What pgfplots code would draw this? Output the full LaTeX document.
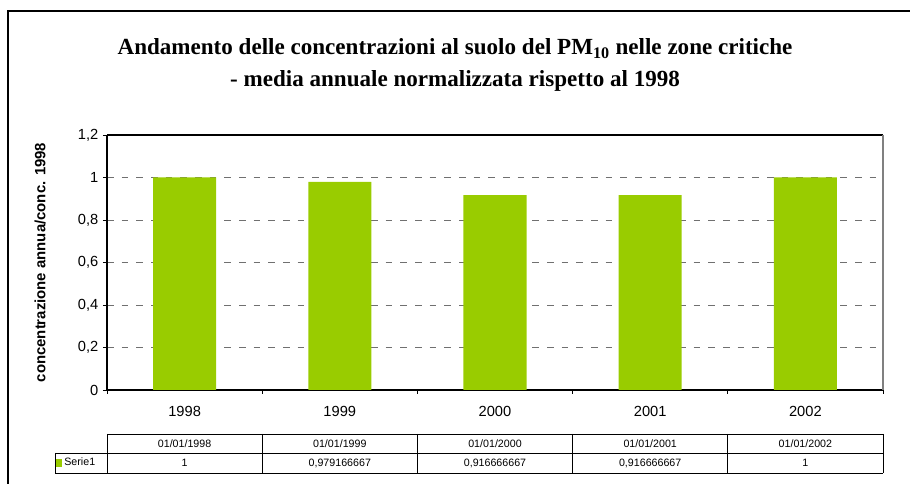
\documentclass[border=0pt]{standalone}
\usepackage{pgfplots}
\pgfplotsset{compat=1.18}
\usepackage{fontspec}
\setmainfont{Liberation Sans}
\newfontfamily\titlefont{Liberation Serif}
\definecolor{barcol}{HTML}{99CC00}
\definecolor{gridcol}{HTML}{707070}
\begin{document}
\begin{tikzpicture}
\useasboundingbox (0,0) rectangle (682.5pt,363pt);
% outer frame
\draw[black, line width=0.8pt] (6pt,-2pt) -- (6pt,354.75pt) -- (690pt,354.75pt);
% title
\node[anchor=base, font=\titlefont\bfseries\fontsize{17.3}{20}\selectfont] at (341.25pt,322pt) {Andamento delle concentrazioni al suolo del PM\textsubscript{10} nelle zone critiche};
\node[anchor=base, font=\titlefont\bfseries\fontsize{17.3}{20}\selectfont] at (341.25pt,298pt) {- media annuale normalizzata rispetto al 1998};
\begin{axis}[
  at={(80.25pt,70.5pt)}, anchor=south west,
  scale only axis, width=582pt, height=191.25pt,
  xmin=-0.5, xmax=4.5, ymin=0, ymax=1.2,
  axis x line*=bottom, axis y line*=left,
  axis line style={black, line width=0.8pt},
  ytick={0,0.2,...,1.2},
  yticklabel style={/pgf/number format/use comma, /pgf/number format/fixed, /pgf/number format/precision=1, /pgf/number format/assume math mode=true, font=\fontsize{11}{13}\selectfont},
  tick align=outside, major tick length=3pt,
  tick style={black, line width=0.6pt},
  xtick={-0.5,0.5,1.5,2.5,3.5,4.5}, xticklabels={},
  extra x ticks={0,1,2,3,4},
  extra x tick labels={1998,1999,2000,2001,2002},
  extra x tick style={major tick length=0pt, xticklabel style={yshift=-9pt}},
  xticklabel style={font=\fontsize{11}{13}\selectfont},
  ymajorgrids, grid style={gridcol, line width=0.7pt, dash pattern=on 5pt off 6pt},
  ylabel={concentrazione annua/conc. 1998},
  every axis y label/.style={at={(axis description cs:-0.0863,0.5)}, rotate=90, anchor=center, font=\bfseries\fontsize{11.2}{13}\selectfont},
  clip=false,
  legend style={at={(axis description cs:-0.068,-0.2863)}, anchor=west, draw=none, fill=none, inner sep=0pt, font=\fontsize{8}{9}\selectfont},
  legend image code/.code={\fill[barcol] (0pt,-2.7pt) rectangle (5.4pt,2.7pt);},
]
\addplot[ybar, bar width=47.25pt, fill=barcol, draw=none] coordinates {
  (0,1) (1,0.979166667) (2,0.916666667) (3,0.916666667) (4,1)
};
\addlegendentry{Serie1}
\draw[black, line width=0.8pt] (rel axis cs:0,1) -- (rel axis cs:1,1);
\draw[gray, line width=0.8pt] (rel axis cs:1,1) -- (rel axis cs:1,0);
\end{axis}
% data table
\begin{scope}[line width=0.7pt]
\draw (80.25pt,37.5pt) -- (662.25pt,37.5pt);
\draw (41.25pt,23.25pt) -- (662.25pt,23.25pt);
\draw (41.25pt,8.25pt) -- (662.25pt,8.25pt);
\draw (41.25pt,23.25pt) -- (41.25pt,8.25pt);
\foreach \k in {0,...,5} {\draw ({80.25pt+\k*116.4pt},37.5pt) -- ({80.25pt+\k*116.4pt},8.25pt);}
\end{scope}
\begin{scope}[every node/.style={font=\fontsize{8}{9}\selectfont, anchor=center}]
\node at (138.45pt,30.4pt) {01/01/1998};
\node at (254.85pt,30.4pt) {01/01/1999};
\node at (371.25pt,30.4pt) {01/01/2000};
\node at (487.65pt,30.4pt) {01/01/2001};
\node at (604.05pt,30.4pt) {01/01/2002};
\node at (138.45pt,15.75pt) {1};
\node at (254.85pt,15.75pt) {0,979166667};
\node at (371.25pt,15.75pt) {0,916666667};
\node at (487.65pt,15.75pt) {0,916666667};
\node at (604.05pt,15.75pt) {1};
\end{scope}
\end{tikzpicture}
\end{document}
